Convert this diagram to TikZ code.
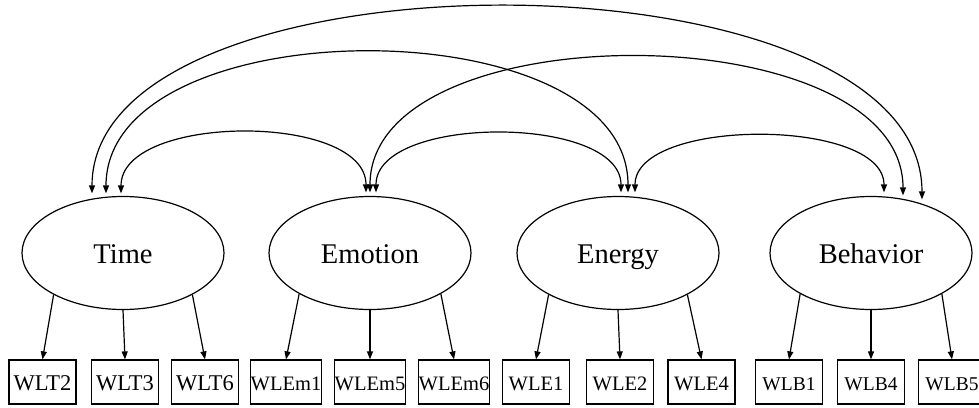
\documentclass[tikz,border=0pt]{standalone}
\usepackage{fontspec}
\setmainfont{Liberation Serif}
\usetikzlibrary{shapes.geometric,arrows.meta}
\begin{document}
\begin{tikzpicture}[x=1pt,y=-1pt,
  latent/.style={draw,ellipse,line width=1.2pt,minimum width=202pt,minimum height=113pt,inner sep=0pt,text height=20pt,text depth=0pt,font=\fontsize{28.5}{30}\selectfont},
  manifest/.style={draw,rectangle,line width=1.2pt,minimum width=67pt,minimum height=44pt,inner sep=0pt,text height=16pt,text depth=0pt,font=\fontsize{19.5}{21}\selectfont},
  bigtext/.style={font=\fontsize{22.5}{24}\selectfont},
  midtext/.style={font=\fontsize{20.5}{22}\selectfont},
  load/.style={line width=1.2pt,-{Triangle[length=8pt,width=6pt]}},
  cov/.style={line width=1.2pt,{Triangle[length=8pt,width=6pt]}-{Triangle[length=8pt,width=6pt]}}]
\useasboundingbox (0,0) rectangle (979,407);
% latent variables
\node[latent] (time) at (123,253) {Time};
\node[latent] (emo)  at (370,253) {Emotion};
\node[latent] (ene)  at (618,253) {Energy};
\node[latent] (beh)  at (871,253) {Behavior};
% indicators
\node[manifest,bigtext] (wlt2) at (42.5,382) {WLT2};
\node[manifest,bigtext] (wlt3) at (125,382) {WLT3};
\node[manifest,bigtext] (wlt6) at (205,382) {WLT6};
\node[manifest,midtext] (wlem1) at (286,382) {WLEm1};
\node[manifest,midtext] (wlem5) at (370,382) {WLEm5};
\node[manifest,midtext] (wlem6) at (454,382) {WLEm6};
\node[manifest,midtext] (wle1) at (536,382) {WLE1};
\node[manifest,midtext] (wle2) at (620,382) {WLE2};
\node[manifest,midtext] (wle4) at (701.5,382) {WLE4};
\node[manifest] (wlb1) at (789,382) {WLB1};
\node[manifest] (wlb4) at (871,382) {WLB4};
\node[manifest] (wlb5) at (952,382) {WLB5};
% loadings
\draw[load] (time.211) -- (wlt2.north);
\draw[load] (time.270) -- (wlt3.north);
\draw[load] (time.329) -- (wlt6.north);
\draw[load] (emo.210) -- (wlem1.north);
\draw[load] (emo.270) -- (wlem5.north);
\draw[load] (emo.330) -- (wlem6.north);
\draw[load] (ene.211) -- (wle1.north);
\draw[load] (ene.270) -- (wle2.north);
\draw[load] (ene.329) -- (wle4.north);
\draw[load] (beh.210) -- (wlb1.north);
\draw[load] (beh.270) -- (wlb4.north);
\draw[load] (beh.330) -- (wlb5.north);
% covariances
\draw[cov] ([xshift=-2pt,yshift=2.5pt]time.north) .. controls +(0,-80) and +(0,-80) .. ([xshift=-4pt,yshift=3.5pt]emo.north);
\draw[cov] ([xshift=6pt,yshift=3.5pt]emo.north) .. controls +(0,-78) and +(0,-78) .. ([xshift=3pt,yshift=3.5pt]ene.north);
\draw[cov] ([xshift=17pt,yshift=3.5pt]ene.north) .. controls +(0,-75) and +(0,-75) .. ([xshift=13pt,yshift=3.5pt]beh.north);
\draw[cov] ([xshift=-17pt,yshift=2.5pt]time.north) .. controls +(0,-187) and +(0,-187) .. ([xshift=10pt,yshift=3.5pt]ene.north);
\draw[cov] ([xshift=0pt,yshift=3.5pt]emo.north) .. controls +(0,-182) and +(0,-182) .. ([xshift=32pt,yshift=0.5pt]beh.north);
\draw[cov] ([xshift=-31pt,yshift=2.5pt]time.north) .. controls +(0,-250) and +(0,-255) .. ([xshift=51pt,yshift=-3.5pt]beh.north);
\end{tikzpicture}
\end{document}
